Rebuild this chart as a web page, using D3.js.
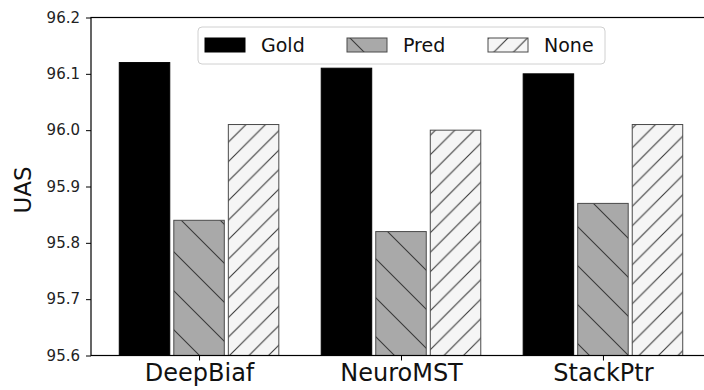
<!DOCTYPE html>
<html>
<head>
<meta charset="utf-8">
<script src="https://cdn.jsdelivr.net/npm/d3@7"></script>
<style>
  body { margin: 0; background: #fff; }
  svg { display: block; font-family: "DejaVu Sans", sans-serif; }
</style>
</head>
<body>
<div id="chart"></div>
<script>
// Data
var parsers = ["DeepBiaf", "NeuroMST", "StackPtr"];
var seriesNames = ["Gold", "Pred", "None"];
var goldValues = [96.12, 96.11, 96.10];
var predValues = [95.84, 95.82, 95.87];
var noneValues = [96.01, 96.00, 96.01];
var yTicks = [95.6, 95.7, 95.8, 95.9, 96.0, 96.1, 96.2];

var seriesValues = [goldValues, predValues, noneValues];

// SVG area
var svgWidth = 704;
var svgHeight = 390;

// plot box (right edge is cut off by the window, like the original)
var plot = { left: 91, right: 711, top: 17.5, bottom: 355.5 };

var svg = d3.select("#chart")
  .append("svg")
  .attr("width", svgWidth)
  .attr("height", svgHeight);

// hatch patterns
var defs = svg.append("defs");
function hatch(id, size, back, dir) {
  var p = defs.append("pattern")
    .attr("id", id)
    .attr("patternUnits", "userSpaceOnUse")
    .attr("width", size)
    .attr("height", size);
  p.append("rect").attr("width", size).attr("height", size).attr("fill", back);
  var s = size, h = size / 2;
  var d = dir === "/"
    ? `M0,${s}L${s},0M${-h},${h}L${h},${-h}M${h},${s + h}L${s + h},${h}`
    : `M0,0L${s},${s}M${-h},${h}L${h},${s + h}M${h},${-h}L${s + h},${h}`;
  p.append("path").attr("d", d).attr("stroke", "#3a3a3a").attr("stroke-width", 1.1);
}
hatch("hatchPred", 39, "#a9a9a9", "\\");
hatch("hatchNone", 19.5, "#f5f5f5", "/");

var fills = ["#000", "url(#hatchPred)", "url(#hatchNone)"];
var strokes = ["#000", "#4a4a4a", "#4a4a4a"];

// scales: x is the group index, same limits as matplotlib's auto margins
var xScale = d3.scaleLinear()
  .domain([-0.535, 2.535])
  .range([plot.left, plot.right]);
var yScale = d3.scaleLinear()
  .domain([95.6, 96.2])
  .range([plot.bottom, plot.top]);

var barWidth = 0.25;
var offsets = [-0.27, 0, 0.27];

// bars
seriesValues.forEach(function(vals, s) {
  svg.append("g").selectAll("rect")
    .data(vals)
    .enter()
    .append("rect")
    .attr("x", (d, i) => xScale(i + offsets[s] - barWidth / 2))
    .attr("width", xScale(barWidth) - xScale(0))
    .attr("y", d => yScale(d))
    .attr("height", d => yScale(95.6) - yScale(d))
    .attr("fill", fills[s])
    .attr("stroke", strokes[s])
    .attr("stroke-width", 1);
});

// frame
svg.append("rect")
  .attr("x", plot.left)
  .attr("y", plot.top)
  .attr("width", plot.right - plot.left)
  .attr("height", plot.bottom - plot.top)
  .attr("fill", "none")
  .attr("stroke", "#000")
  .attr("stroke-width", 1.2);

// y axis
var yAxis = d3.axisLeft(yScale)
  .tickValues(yTicks)
  .tickFormat(d3.format(".1f"))
  .tickSize(5)
  .tickPadding(6);
var yG = svg.append("g")
  .attr("transform", `translate(${plot.left}, 0)`)
  .call(yAxis);
yG.select(".domain").remove();
yG.selectAll("text")
  .attr("font-size", 15)
  .attr("font-family", "DejaVu Sans")
  .attr("fill", "#222");
yG.selectAll("line").attr("stroke", "#000");

// x axis
var xAxis = d3.axisBottom(xScale)
  .tickValues([0, 1, 2])
  .tickFormat((d, i) => parsers[i])
  .tickSize(5)
  .tickPadding(3);
var xG = svg.append("g")
  .attr("transform", `translate(0, ${plot.bottom})`)
  .call(xAxis);
xG.select(".domain").remove();
xG.selectAll("text")
  .attr("font-size", 24)
  .attr("font-family", "DejaVu Sans")
  .attr("fill", "#111");
xG.selectAll("line").attr("stroke", "#000");

// y label
svg.append("text")
  .attr("transform", "translate(31, 190) rotate(-90)")
  .attr("text-anchor", "middle")
  .attr("font-size", 23)
  .attr("fill", "#111")
  .text("UAS");

// legend
var legend = svg.append("g");
legend.append("rect")
  .attr("x", 198)
  .attr("y", 27)
  .attr("width", 407)
  .attr("height", 37)
  .attr("rx", 4)
  .attr("fill", "rgba(255,255,255,0.8)")
  .attr("stroke", "#d0d0d0");

var legendX = [205, 347, 488];
seriesNames.forEach(function(name, s) {
  legend.append("rect")
    .attr("x", legendX[s])
    .attr("y", 38)
    .attr("width", 40)
    .attr("height", 14)
    .attr("fill", fills[s])
    .attr("stroke", strokes[s]);
  legend.append("text")
    .attr("x", legendX[s] + 56)
    .attr("y", 52)
    .attr("font-size", 19)
    .attr("fill", "#111")
    .text(name);
});
</script>
</body>
</html>
